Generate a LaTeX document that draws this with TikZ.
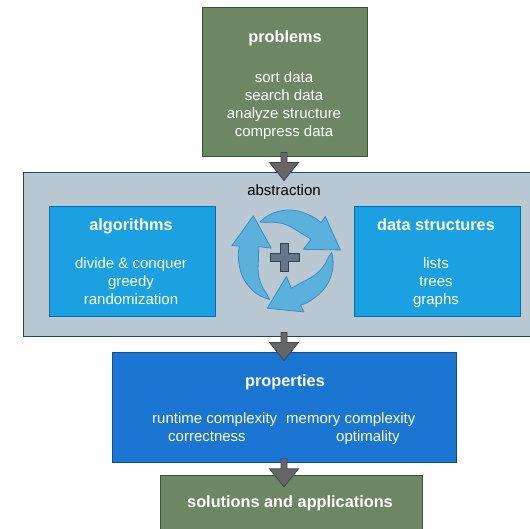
\documentclass[tikz,border=0pt]{standalone}
\usepackage{fontspec}
\setmainfont{Liberation Sans}
\usetikzlibrary{calc}
\definecolor{gfill}{HTML}{6D8764}
\definecolor{gborder}{HTML}{3A5431}
\definecolor{absfill}{HTML}{BAC8D3}
\definecolor{absborder}{HTML}{23445D}
\definecolor{bfill}{HTML}{1BA1E2}
\definecolor{bborder}{HTML}{006EAF}
\definecolor{pfill}{HTML}{1B75D2}
\definecolor{pborder}{HTML}{0D4F96}
\definecolor{arrfill}{HTML}{666666}
\definecolor{arrborder}{HTML}{3F4850}
\definecolor{cycfill}{HTML}{5BB1DC}
\definecolor{cycborder}{HTML}{3A8CC4}
\definecolor{plusfill}{HTML}{647687}
\definecolor{plusborder}{HTML}{314354}
\newcommand\blockarrow[2]{%
  \path[blockarr] let \p1=(#1.south), \p2=(#2.north) in
    (281pt,\y1+4pt) -- (287pt,\y1+4pt) -- (287pt,\y1-6pt) -- (298.5pt,\y1-6pt)
    -- (284pt,\y1-24pt) -- (269.5pt,\y1-6pt) -- (281pt,\y1-6pt) -- cycle;}
\begin{document}
\begin{tikzpicture}[x=1pt,y=1pt,
  every node/.style={font=\fontsize{15}{18}\selectfont},
  box/.style={draw, line width=1pt, inner sep=0pt, rectangle},
  greenbox/.style={box, fill=gfill, draw=gborder},
  absbox/.style={box, fill=absfill, draw=absborder},
  bluebox/.style={box, fill=bfill, draw=bborder},
  propbox/.style={box, fill=pfill, draw=pborder},
  wtext/.style={text=white, inner sep=0pt, anchor=base},
  wtitle/.style={wtext, font=\fontsize{16.3}{19}\selectfont\bfseries},
  blockarr/.style={fill=arrfill, draw=arrborder, line width=0.8pt, line join=miter},
  cyc/.style={fill=cycfill, draw=cycborder, line width=0.8pt, line join=round},
  plus/.style={fill=plusfill, draw=plusborder, line width=1pt}
]
\useasboundingbox (0,0) rectangle (530,-528);
\clip (0,0) rectangle (530,-528);

% boxes
\node[greenbox, minimum width=164.8pt, minimum height=148.7pt] (problems) at (285.1,-81.7) {};
\node[absbox, minimum width=511.5pt, minimum height=163.3pt] (abstraction) at (279.25,-254.35) {};
\node[bluebox, minimum width=165.7pt, minimum height=109.8pt] (algorithms) at (132.15,-261.6) {};
\node[bluebox, minimum width=166pt, minimum height=109.8pt] (datastruct) at (437,-261.6) {};
\node[propbox, minimum width=343.8pt, minimum height=110.3pt] (properties) at (284.6,-407.15) {};
\node[greenbox, minimum width=261.3pt, minimum height=64.3pt] (solutions) at (291.35,-507.85) {};

% texts
\node[wtitle] (tproblems) at (285,-42.7) {problems};
\node[wtext] (p1) at (284,-82.5) {sort data};
\node[wtext] (p2) at (284,-100.5) {search data};
\node[wtext] (p3) at (284,-118.5) {analyze structure};
\node[wtext] (p4) at (284,-136.5) {compress data};

\node[inner sep=0pt, anchor=base] (tabs) at (284,-195) {abstraction};

\node[wtitle] (talg) at (131,-230.3) {algorithms};
\node[wtext] (a1) at (131,-268) {divide \& conquer};
\node[wtext] (a2) at (131,-286) {greedy};
\node[wtext] (a3) at (131,-304) {randomization};

\node[wtitle] (tds) at (436,-230.5) {data structures};
\node[wtext] (d1) at (436,-268) {lists};
\node[wtext] (d2) at (436,-286) {trees};
\node[wtext] (d3) at (436,-304) {graphs};

\node[wtitle] (tprop) at (285,-386) {properties};
\node[wtext, anchor=base west] (r1) at (152,-423.5) {runtime complexity};
\node[wtext, anchor=base west] (r2) at (286,-423.5) {memory complexity};
\node[wtext, anchor=base west] (r3) at (168,-441.5) {correctness};
\node[wtext, anchor=base west] (r4) at (336,-441.5) {optimality};

\node[wtitle] (tsol) at (290,-507.5) {solutions and applications};

% block arrows
\blockarrow{problems}{abstraction}
\blockarrow{abstraction}{properties}
\blockarrow{properties}{solutions}

% cycle arrows
\foreach \r in {0,120,240}{
\begin{scope}[shift={(287,-258)}, rotate=\r]
  \path[cyc] (127:45) -- plot[smooth, tension=0.7] coordinates {(127:45) (108:47) (84:48.2) (60:48.6) (46:49)}
    -- (47.4:56.5) -- (8.6:54) -- (28:18.5) -- (38:30.5)
    -- plot[smooth, tension=0.7] coordinates {(38:30.5) (60:28.5) (88:32.5) (108:37.5) (121:41.5) (127:45)} -- cycle;
\end{scope}}

% plus
\path[plus] (280,-243.3) -- (288.3,-243.3) -- (288.3,-253.3) -- (299,-253.3) -- (299,-261.7)
  -- (288.3,-261.7) -- (288.3,-271.7) -- (280,-271.7) -- (280,-261.7) -- (270,-261.7)
  -- (270,-253.3) -- (280,-253.3) -- cycle;
\end{tikzpicture}
\end{document}
